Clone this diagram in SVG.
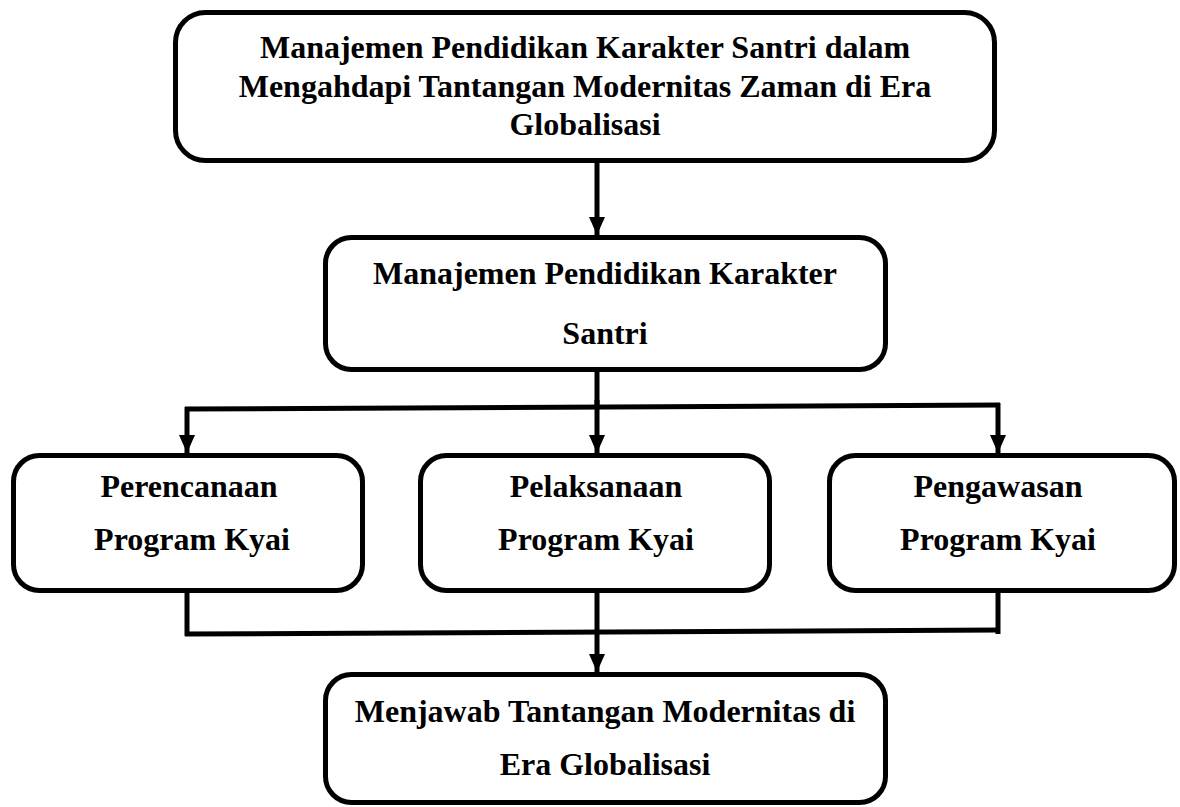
<svg xmlns="http://www.w3.org/2000/svg" width="1180" height="807" viewBox="0 0 1180 807">
  <style>
    .box { fill: #ffffff; stroke: #000000; stroke-width: 5; }
    .lbl { font-weight: bold; font-size: 32px; fill: #000000; text-anchor: middle; }
    .conn { fill: none; stroke: #000000; stroke-width: 5; }
    .arrow { fill: none; stroke: #000000; stroke-width: 5; marker-end: url(#ah); }
  </style>
  <defs>
    <marker id="ah" viewBox="0 0 18 16" refX="18" refY="8" markerWidth="18" markerHeight="16" markerUnits="userSpaceOnUse" orient="auto">
      <path d="M0,0 L18,8 L0,16 z" fill="#000000"/>
    </marker>
  </defs>
  <rect width="1180" height="807" fill="#ffffff"/>

  <g id="connectors">
    <line class="arrow" x1="597" y1="162" x2="597" y2="235"/>
    <line class="conn" x1="597" y1="371" x2="597" y2="408"/>
    <line class="conn" x1="185" y1="409" x2="1000" y2="405"/>
    <line class="arrow" x1="597" y1="400" x2="597" y2="453"/>
    <line class="arrow" x1="187" y1="407" x2="187" y2="453"/>
    <line class="arrow" x1="998" y1="403" x2="998" y2="453"/>
    <line class="conn" x1="187" y1="592" x2="187" y2="636"/>
    <line class="conn" x1="998" y1="592" x2="998" y2="634"/>
    <line class="conn" x1="185" y1="634" x2="1000" y2="630"/>
    <line class="arrow" x1="597" y1="592" x2="597" y2="672"/>
  </g>

  <g font-family="Liberation Serif, Tinos, DejaVu Serif, serif">
  <g id="node-top">
    <rect class="box" x="175.5" y="12.5" width="819" height="148" rx="30"/>
    <text class="lbl" x="585" y="58">Manajemen Pendidikan Karakter Santri dalam</text>
    <text class="lbl" x="585" y="97">Mengahdapi Tantangan Modernitas Zaman di Era</text>
    <text class="lbl" x="585" y="135">Globalisasi</text>
  </g>

  <g id="node-manajemen">
    <rect class="box" x="325.5" y="237.5" width="560" height="132" rx="26"/>
    <text class="lbl" x="605" y="284">Manajemen Pendidikan Karakter</text>
    <text class="lbl" x="605" y="344">Santri</text>
  </g>

  <g id="node-perencanaan">
    <rect class="box" x="13.5" y="455.5" width="349" height="135" rx="26"/>
    <text class="lbl" x="189" y="497">Perencanaan</text>
    <text class="lbl" x="192" y="550">Program Kyai</text>
  </g>

  <g id="node-pelaksanaan">
    <rect class="box" x="420.5" y="455.5" width="349" height="135" rx="26"/>
    <text class="lbl" x="596" y="497">Pelaksanaan</text>
    <text class="lbl" x="596" y="550">Program Kyai</text>
  </g>

  <g id="node-pengawasan">
    <rect class="box" x="829.5" y="455.5" width="345" height="135" rx="26"/>
    <text class="lbl" x="998" y="497">Pengawasan</text>
    <text class="lbl" x="998" y="550">Program Kyai</text>
  </g>

  <g id="node-menjawab">
    <rect class="box" x="325.5" y="674.5" width="560" height="128" rx="26"/>
    <text class="lbl" x="605" y="722">Menjawab Tantangan Modernitas di</text>
    <text class="lbl" x="605" y="775">Era Globalisasi</text>
  </g>
  </g>
</svg>
